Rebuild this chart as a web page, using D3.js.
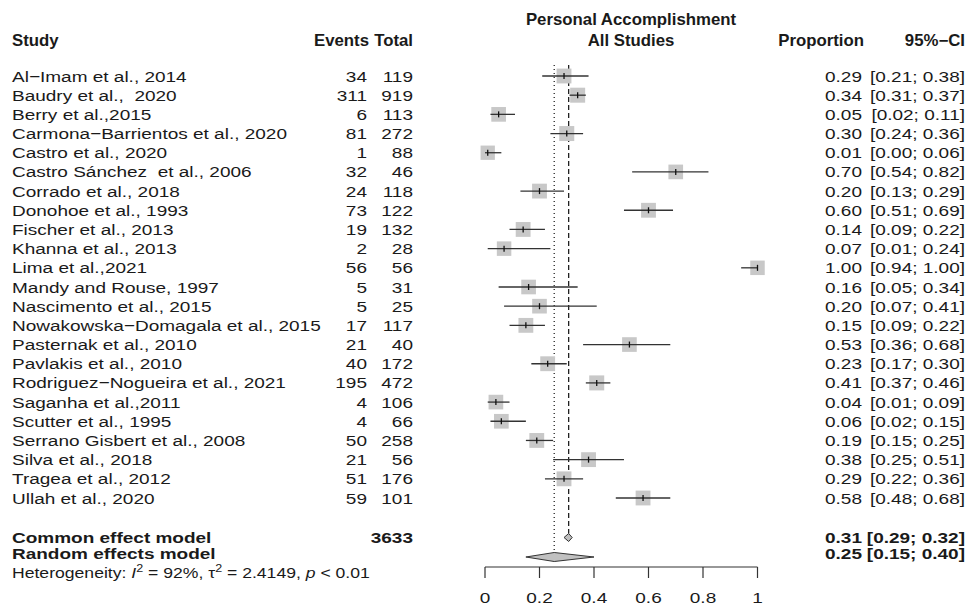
<!DOCTYPE html>
<html>
<head>
<meta charset="utf-8">
<script src="https://cdn.jsdelivr.net/npm/d3@7"></script>
<style>
  body { margin: 0; background: #fff; }
  svg text { font-family: "Liberation Sans", Arial, sans-serif; fill: #1a1a1a; white-space: pre; }
</style>
</head>
<body>
<div id="forest"></div>
<script>
var svgWidth = 976;
var svgHeight = 607;

// study data
var studies = ["Al\u2212Imam et al., 2014", "Baudry et al.,  2020", "Berry et al.,2015",
  "Carmona\u2212Barrientos et al., 2020", "Castro et al., 2020", "Castro S\u00e1nchez  et al., 2006",
  "Corrado et al., 2018", "Donohoe et al., 1993", "Fischer et al., 2013", "Khanna et al., 2013",
  "Lima et al.,2021", "Mandy and Rouse, 1997", "Nascimento et al., 2015",
  "Nowakowska\u2212Domagala et al., 2015", "Pasternak et al., 2010", "Pavlakis et al., 2010",
  "Rodriguez\u2212Nogueira et al., 2021", "Saganha et al.,2011", "Scutter et al., 1995",
  "Serrano Gisbert et al., 2008", "Silva et al., 2018", "Tragea et al., 2012", "Ullah et al., 2020"];
var events = [34, 311, 6, 81, 1, 32, 24, 73, 19, 2, 56, 5, 5, 17, 21, 40, 195, 4, 4, 50, 21, 51, 59];
var totals = [119, 919, 113, 272, 88, 46, 118, 122, 132, 28, 56, 31, 25, 117, 40, 172, 472, 106, 66, 258, 56, 176, 101];
var proportions = [0.29, 0.34, 0.05, 0.30, 0.01, 0.70, 0.20, 0.60, 0.14, 0.07, 1.00, 0.16, 0.20, 0.15, 0.53, 0.23, 0.41, 0.04, 0.06, 0.19, 0.38, 0.29, 0.58];
var lowers = [0.21, 0.31, 0.02, 0.24, 0.00, 0.54, 0.13, 0.51, 0.09, 0.01, 0.94, 0.05, 0.07, 0.09, 0.36, 0.17, 0.37, 0.01, 0.02, 0.15, 0.25, 0.22, 0.48];
var uppers = [0.38, 0.37, 0.11, 0.36, 0.06, 0.82, 0.29, 0.69, 0.22, 0.24, 1.00, 0.34, 0.41, 0.22, 0.68, 0.30, 0.46, 0.09, 0.15, 0.25, 0.51, 0.36, 0.68];
// random effects weights (%), nearly equal
var weights = [4.4, 4.5, 4.3, 4.5, 4.1, 4.3, 4.4, 4.4, 4.4, 4.2, 4.2, 4.3, 4.3, 4.4, 4.3, 4.4, 4.5, 4.3, 4.3, 4.4, 4.4, 4.4, 4.4];

// pooled estimates
var totalN = 3633;
var commonEst = 0.307, commonLo = 0.29, commonHi = 0.32;
var randomEst = 0.254, randomLo = 0.15, randomHi = 0.40;

var axisTicks = [0, 0.2, 0.4, 0.6, 0.8, 1];
var tickLabels = ["0", "0.2", "0.4", "0.6", "0.8", "1"];

var rows = studies.map(function(s, i) {
  return { study: s, events: events[i], total: totals[i], p: proportions[i],
           lo: lowers[i], hi: uppers[i], w: weights[i] };
});

var svg = d3.select("#forest").append("svg")
  .attr("width", svgWidth)
  .attr("height", svgHeight);

var x = d3.scaleLinear().domain([0, 1]).range([485, 757.5]);
var y = d3.scalePoint().domain(studies).range([76, 498]);
var boxSize = d3.scaleSqrt().domain([0, 4.5]).range([0, 15]);
var fmt = d3.format(".2f");

var fs = 15.5;
var sx = 19 / fs;   // the picture is stretched horizontally

function txt(g, str, tx, ty, opts) {
  opts = opts || {};
  return g.append("text")
    .attr("transform", "translate(" + tx + "," + ty + ") scale(" + (opts.sx || sx) + ",1)")
    .attr("text-anchor", opts.anchor || "start")
    .attr("font-size", opts.size || fs)
    .attr("font-weight", opts.bold ? "bold" : "normal")
    .text(str);
}

// column positions
var colStudy = 12, colEvents = 367, colTotal = 413, colProp = 862, colCI = 965;
var base = 5.5;

// header
var head = svg.append("g");
var hOpt = { bold: true, sx: 1.05, size: 16 };
txt(head, "Personal Accomplishment", 631, 24.5, Object.assign({ anchor: "middle" }, hOpt));
txt(head, "All Studies", 631, 45.5, Object.assign({ anchor: "middle" }, hOpt));
txt(head, "Study", colStudy, 45.5, hOpt);
txt(head, "Events", 369, 45.5, Object.assign({ anchor: "end" }, hOpt));
txt(head, "Total", colTotal, 45.5, Object.assign({ anchor: "end" }, hOpt));
txt(head, "Proportion", 864, 45.5, Object.assign({ anchor: "end" }, hOpt));
txt(head, "95%\u2212CI", colCI, 45.5, Object.assign({ anchor: "end" }, hOpt));

// reference lines
var topY = 65;
var yCommon = 537.5, yRandom = 557;
svg.append("line")
  .attr("x1", x(commonEst)).attr("x2", x(commonEst))
  .attr("y1", topY).attr("y2", yCommon - 4)
  .attr("stroke", "#222").attr("stroke-width", 1.3)
  .attr("stroke-dasharray", "5,3");
svg.append("line")
  .attr("x1", x(randomEst)).attr("x2", x(randomEst))
  .attr("y1", topY).attr("y2", yRandom - 4.5)
  .attr("stroke", "#222").attr("stroke-width", 1.3)
  .attr("stroke-dasharray", "1,3");

// study rows
var rowG = svg.selectAll(".row")
  .data(rows)
  .enter()
  .append("g")
  .attr("class", "row");

rowG.each(function(d) {
  var g = d3.select(this);
  var cy = y(d.study);
  txt(g, d.study, colStudy, cy + base);
  txt(g, String(d.events), colEvents, cy + base, { anchor: "end" });
  txt(g, String(d.total), colTotal, cy + base, { anchor: "end" });
  txt(g, fmt(d.p), colProp, cy + base, { anchor: "end" });
  txt(g, "[" + fmt(d.lo) + "; " + fmt(d.hi) + "]", colCI, cy + base, { anchor: "end" });

  var s = boxSize(d.w);
  g.append("rect")
    .attr("x", x(d.p) - s / 2).attr("y", cy - s / 2)
    .attr("width", s).attr("height", s)
    .attr("fill", "#c8c8c8");
  g.append("line")
    .attr("x1", x(d.lo)).attr("x2", x(d.hi))
    .attr("y1", cy).attr("y2", cy)
    .attr("stroke", "#333").attr("stroke-width", 1.3);
  g.append("line")
    .attr("x1", x(d.p)).attr("x2", x(d.p))
    .attr("y1", cy - 3).attr("y2", cy + 3)
    .attr("stroke", "#111").attr("stroke-width", 1.3);
});

// pooled models
var bot = svg.append("g");
txt(bot, "Common effect model", colStudy, yCommon + base - 0.5, { bold: true });
txt(bot, String(totalN), colTotal, yCommon + base - 0.5, { anchor: "end", bold: true });
txt(bot, fmt(commonEst), colProp, yCommon + base - 0.5, { anchor: "end", bold: true });
txt(bot, "[" + fmt(commonLo) + "; " + fmt(commonHi) + "]", colCI, yCommon + base - 0.5, { anchor: "end", bold: true });
txt(bot, "Random effects model", colStudy, 559, { bold: true });
txt(bot, fmt(randomEst), colProp, 559, { anchor: "end", bold: true });
txt(bot, "[" + fmt(randomLo) + "; " + fmt(randomHi) + "]", colCI, 559, { anchor: "end", bold: true });

function diamond(lo, est, hi, cy, h) {
  return [[x(lo), cy], [x(est), cy - h], [x(hi), cy], [x(est), cy + h]];
}
bot.append("polygon")
  .attr("points", diamond(commonLo, commonEst, commonHi, yCommon, 4).join(" "))
  .attr("fill", "#c0c0c0").attr("stroke", "#333").attr("stroke-width", 1);
bot.append("polygon")
  .attr("points", diamond(randomLo, randomEst, randomHi, yRandom, 4.5).join(" "))
  .attr("fill", "#c0c0c0").attr("stroke", "#333").attr("stroke-width", 1);

// heterogeneity line
var het = bot.append("text")
  .attr("transform", "translate(" + colStudy + ",577.5) scale(" + (17.6 / 14) + ",1)")
  .attr("font-size", 14);
het.append("tspan").text("Heterogeneity: ");
het.append("tspan").attr("font-style", "italic").text("I");
het.append("tspan").attr("font-size", 10).attr("dy", -6).text("2");
het.append("tspan").attr("dy", 6).text(" = 92%, \u03c4");
het.append("tspan").attr("font-size", 10).attr("dy", -6).text("2");
het.append("tspan").attr("dy", 6).text(" = 2.4149, ");
het.append("tspan").attr("font-style", "italic").text("p");
het.append("tspan").text(" < 0.01");

// x axis, ticks pointing down
var axisG = svg.append("g")
  .attr("transform", "translate(0,567)");
axisG.append("line")
  .attr("x1", x(0)).attr("x2", x(1))
  .attr("stroke", "#333").attr("stroke-width", 1.2);
axisG.selectAll(".tick")
  .data(axisTicks)
  .enter()
  .append("line")
  .attr("x1", d => x(d)).attr("x2", d => x(d))
  .attr("y1", 0).attr("y2", 11)
  .attr("stroke", "#333").attr("stroke-width", 1.2);
axisTicks.forEach(function(t, i) {
  txt(axisG, tickLabels[i], x(t), 36, { anchor: "middle" });
});
</script>
</body>
</html>
